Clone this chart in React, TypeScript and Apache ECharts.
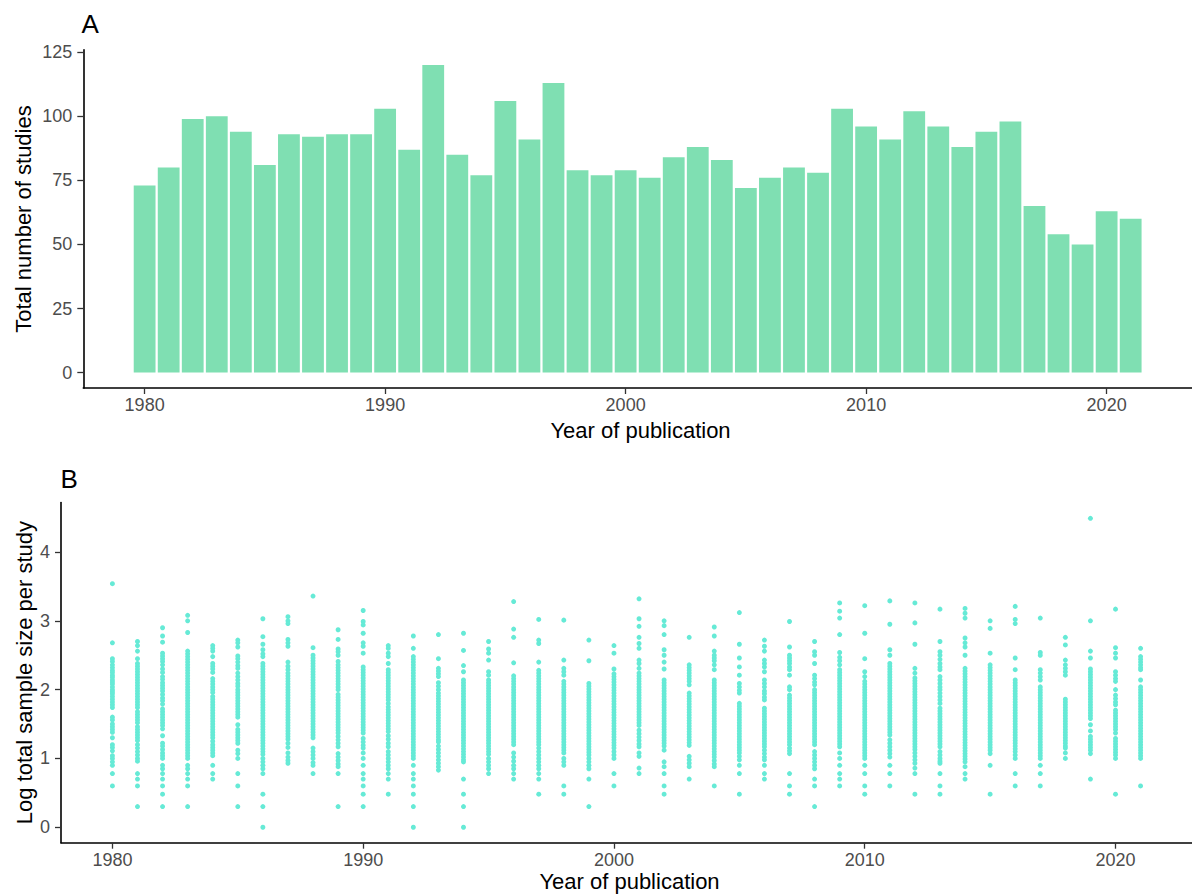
import React, { useEffect, useRef } from "react";
import * as echarts from "echarts";

// Panel A: total number of studies per year
const barYears = [1980,1981,1982,1983,1984,1985,1986,1987,1988,1989,1990,1991,1992,1993,1994,1995,1996,1997,1998,1999,2000,2001,2002,2003,2004,2005,2006,2007,2008,2009,2010,2011,2012,2013,2014,2015,2016,2017,2018,2019,2020,2021];
const studyCounts = [73,80,99,100,94,81,93,92,93,93,103,87,120,85,77,106,91,113,79,77,79,76,84,88,83,72,76,80,78,103,96,91,102,96,88,94,98,65,54,50,63,60];

const xTicks = [1980, 1990, 2000, 2010, 2020];
const yTicksA = [0, 25, 50, 75, 100, 125];
const yTicksB = [0, 1, 2, 3, 4];

// Panel B: log total sample size per study (one array per year)
const s1980 = [3.54,2.68,2.45,2.41,2.36,2.32,2.28,2.25,2.21,2.18,2.14,2.11,2.08,2.04,2.0,1.97,1.94,1.9,1.86,1.82,1.78,1.74,1.6,1.56,1.5,1.46,1.42,1.38,1.3,1.2,1.16,1.11,1.04,1.0,0.95,0.9,0.78,0.6];
const s1981 = [2.7,2.64,2.56,2.45,2.38,2.34,2.3,2.26,2.22,2.18,2.14,2.1,2.06,2.02,1.98,1.94,1.9,1.86,1.82,1.78,1.74,1.68,1.64,1.6,1.56,1.52,1.46,1.42,1.38,1.34,1.3,1.26,1.2,1.15,1.1,1.05,1.0,0.96,0.78,0.7,0.6,0.3];
const s1982 = [2.9,2.78,2.69,2.53,2.49,2.45,2.41,2.36,2.3,2.25,2.19,2.15,2.1,2.06,2.02,1.98,1.93,1.88,1.84,1.79,1.72,1.68,1.64,1.6,1.56,1.52,1.48,1.43,1.33,1.22,1.18,1.13,1.08,1.04,1.0,0.9,0.85,0.78,0.7,0.6,0.48,0.3];
const s1983 = [3.08,3.0,2.83,2.56,2.52,2.48,2.44,2.4,2.36,2.32,2.28,2.24,2.2,2.16,2.12,2.08,2.04,2.0,1.96,1.92,1.88,1.84,1.8,1.76,1.72,1.68,1.64,1.6,1.56,1.52,1.48,1.44,1.4,1.36,1.32,1.28,1.24,1.2,1.16,1.12,1.08,1.04,1.0,0.9,0.85,0.78,0.7,0.6,0.3];
const s1984 = [2.64,2.6,2.56,2.48,2.38,2.34,2.3,2.25,2.16,2.12,2.08,2.04,2.0,1.96,1.9,1.86,1.82,1.78,1.74,1.7,1.66,1.62,1.58,1.54,1.5,1.46,1.42,1.38,1.34,1.3,1.25,1.2,1.16,1.12,1.08,1.04,0.9,0.78,0.7];
const s1985 = [2.72,2.68,2.62,2.49,2.45,2.4,2.35,2.31,2.24,2.19,2.14,2.09,2.05,2.0,1.96,1.92,1.88,1.84,1.8,1.76,1.72,1.68,1.64,1.6,1.49,1.42,1.38,1.34,1.3,1.26,1.22,1.12,1.07,1.0,0.78,0.6,0.3];
const s1986 = [3.03,2.77,2.66,2.58,2.52,2.48,2.38,2.34,2.3,2.26,2.22,2.18,2.14,2.1,2.06,2.02,1.98,1.94,1.9,1.86,1.82,1.78,1.74,1.7,1.66,1.62,1.58,1.54,1.5,1.46,1.42,1.38,1.34,1.3,1.26,1.22,1.18,1.14,1.1,1.06,1.0,0.95,0.9,0.85,0.78,0.48,0.3,0.0];
const s1987 = [3.06,3.0,2.96,2.73,2.68,2.63,2.4,2.34,2.29,2.24,2.2,2.16,2.12,2.08,2.04,2.0,1.96,1.92,1.88,1.84,1.8,1.76,1.72,1.68,1.64,1.6,1.56,1.52,1.48,1.44,1.4,1.36,1.32,1.28,1.22,1.16,1.08,1.02,0.97,0.93];
const s1988 = [3.36,2.61,2.5,2.46,2.42,2.38,2.34,2.3,2.26,2.22,2.18,2.14,2.1,2.06,2.02,1.98,1.94,1.9,1.86,1.82,1.78,1.74,1.7,1.66,1.62,1.58,1.54,1.5,1.46,1.42,1.38,1.34,1.3,1.15,1.1,1.05,1.0,0.94,0.9,0.78];
const s1989 = [2.87,2.73,2.59,2.55,2.5,2.41,2.36,2.32,2.28,2.24,2.2,2.16,2.12,2.08,2.04,2.0,1.93,1.89,1.85,1.81,1.77,1.73,1.69,1.65,1.61,1.57,1.53,1.49,1.45,1.41,1.37,1.32,1.27,1.22,1.17,1.07,1.02,0.97,0.92,0.88,0.78,0.3];
const s1990 = [3.15,2.99,2.94,2.82,2.68,2.63,2.53,2.33,2.29,2.25,2.21,2.17,2.13,2.09,2.05,2.01,1.97,1.93,1.89,1.85,1.81,1.77,1.73,1.69,1.65,1.61,1.57,1.53,1.49,1.45,1.41,1.37,1.29,1.24,1.19,1.15,1.08,1.0,0.9,0.78,0.7,0.6,0.48,0.3];
const s1991 = [2.64,2.6,2.53,2.48,2.38,2.29,2.25,2.21,2.17,2.13,2.09,2.05,2.01,1.97,1.93,1.89,1.85,1.8,1.75,1.71,1.67,1.63,1.59,1.55,1.51,1.47,1.43,1.39,1.33,1.28,1.22,1.17,1.1,1.05,1.0,0.95,0.9,0.85,0.78,0.7,0.48];
const s1992 = [2.78,2.6,2.48,2.44,2.4,2.36,2.32,2.28,2.24,2.2,2.16,2.12,2.08,2.04,2.0,1.96,1.92,1.88,1.84,1.8,1.76,1.72,1.68,1.64,1.6,1.56,1.52,1.48,1.44,1.4,1.36,1.32,1.28,1.24,1.2,1.16,1.12,1.08,1.04,1.0,0.9,0.78,0.7,0.6,0.48,0.3,0.0];
const s1993 = [2.8,2.45,2.31,2.27,2.23,2.19,2.1,2.05,2.0,1.95,1.91,1.87,1.83,1.79,1.75,1.71,1.67,1.63,1.59,1.55,1.51,1.47,1.43,1.39,1.35,1.31,1.27,1.24,1.18,1.13,1.08,1.03,0.98,0.93,0.88,0.83];
const s1994 = [2.82,2.57,2.35,2.26,2.14,2.1,2.06,2.02,1.98,1.94,1.9,1.86,1.82,1.78,1.74,1.7,1.66,1.62,1.58,1.54,1.5,1.46,1.42,1.38,1.34,1.3,1.26,1.22,1.18,1.14,1.1,1.06,1.02,0.98,0.95,0.7,0.48,0.3,0.0];
const s1995 = [2.7,2.59,2.53,2.43,2.26,2.21,2.14,2.1,2.06,2.02,1.98,1.94,1.9,1.86,1.82,1.78,1.74,1.7,1.66,1.62,1.58,1.54,1.5,1.46,1.42,1.38,1.34,1.3,1.26,1.22,1.18,1.14,1.1,1.06,1.0,0.95,0.9,0.85,0.78];
const s1996 = [3.28,2.88,2.76,2.39,2.2,2.16,2.12,2.08,2.04,2.0,1.96,1.92,1.88,1.84,1.8,1.76,1.72,1.68,1.64,1.6,1.56,1.52,1.48,1.44,1.4,1.36,1.32,1.28,1.24,1.2,1.08,1.02,0.96,0.9,0.85,0.78,0.7];
const s1997 = [3.02,2.72,2.67,2.4,2.28,2.24,2.2,2.16,2.12,2.08,2.04,2.0,1.96,1.92,1.88,1.84,1.8,1.76,1.72,1.68,1.64,1.6,1.56,1.52,1.48,1.44,1.4,1.36,1.32,1.28,1.24,1.2,1.15,1.1,1.05,1.0,0.95,0.9,0.85,0.78,0.7,0.48];
const s1998 = [3.01,2.43,2.31,2.26,2.21,2.12,2.08,2.04,2.0,1.96,1.92,1.88,1.84,1.8,1.76,1.72,1.68,1.64,1.6,1.56,1.52,1.48,1.44,1.4,1.36,1.32,1.28,1.24,1.2,1.16,1.12,1.08,1.0,0.95,0.9,0.6,0.48];
const s1999 = [2.72,2.42,2.09,2.05,2.01,1.97,1.93,1.89,1.85,1.81,1.77,1.73,1.69,1.65,1.61,1.57,1.53,1.49,1.45,1.41,1.37,1.33,1.29,1.25,1.21,1.17,1.13,1.09,1.05,1.0,0.95,0.9,0.85,0.7,0.3];
const s2000 = [2.64,2.53,2.3,2.23,2.19,2.15,2.11,2.07,2.03,1.99,1.95,1.91,1.87,1.83,1.79,1.75,1.71,1.67,1.63,1.59,1.55,1.51,1.47,1.43,1.39,1.35,1.31,1.27,1.23,1.19,1.15,1.1,1.05,1.0,0.78,0.6];
const s2001 = [3.32,3.03,2.92,2.76,2.67,2.6,2.43,2.38,2.31,2.24,2.2,2.16,2.12,2.08,2.04,2.0,1.96,1.92,1.88,1.84,1.8,1.76,1.72,1.68,1.64,1.6,1.56,1.52,1.48,1.41,1.36,1.31,1.26,1.21,1.17,1.08,1.03,0.86,0.78];
const s2002 = [3.0,2.93,2.8,2.58,2.5,2.4,2.3,2.14,2.1,2.06,2.02,1.98,1.94,1.9,1.86,1.82,1.78,1.74,1.7,1.66,1.62,1.58,1.54,1.5,1.46,1.42,1.38,1.34,1.3,1.26,1.22,1.18,1.12,0.95,0.88,0.78,0.6,0.48];
const s2003 = [2.76,2.36,2.32,2.28,2.24,2.2,2.16,2.12,2.07,1.95,1.91,1.87,1.83,1.79,1.75,1.71,1.67,1.63,1.59,1.55,1.51,1.47,1.43,1.39,1.35,1.31,1.27,1.23,1.19,1.03,0.98,0.93,0.88,0.7];
const s2004 = [2.91,2.78,2.56,2.5,2.46,2.42,2.36,2.29,2.14,2.1,2.06,2.02,1.98,1.94,1.9,1.86,1.82,1.78,1.74,1.7,1.66,1.62,1.58,1.54,1.5,1.46,1.42,1.38,1.34,1.3,1.26,1.22,1.18,1.14,1.1,1.06,1.02,0.97,0.92,0.88,0.6];
const s2005 = [3.12,2.66,2.46,2.33,2.21,2.09,2.04,1.99,1.95,1.8,1.76,1.72,1.68,1.64,1.6,1.56,1.52,1.48,1.44,1.4,1.36,1.32,1.28,1.24,1.2,1.16,1.12,1.08,1.03,0.98,0.9,0.78,0.48];
const s2006 = [2.72,2.63,2.56,2.43,2.38,2.33,2.26,2.14,2.09,2.04,1.98,1.94,1.89,1.85,1.73,1.69,1.65,1.61,1.57,1.53,1.49,1.45,1.41,1.37,1.33,1.29,1.25,1.21,1.17,1.12,1.07,1.02,0.98,0.9,0.78,0.7];
const s2007 = [2.99,2.62,2.5,2.46,2.42,2.38,2.33,2.29,2.21,2.04,2.0,1.92,1.88,1.84,1.8,1.76,1.72,1.68,1.64,1.6,1.56,1.52,1.48,1.44,1.4,1.36,1.32,1.28,1.24,1.2,1.15,1.11,1.07,0.78,0.6,0.48];
const s2008 = [2.7,2.55,2.5,2.38,2.21,2.16,2.11,2.07,2.0,1.96,1.92,1.88,1.84,1.8,1.76,1.72,1.68,1.64,1.6,1.56,1.52,1.48,1.44,1.4,1.36,1.32,1.28,1.24,1.2,1.1,1.05,1.0,0.95,0.9,0.85,0.7,0.6,0.3];
const s2009 = [3.26,3.14,3.04,2.8,2.54,2.47,2.42,2.36,2.29,2.25,2.21,2.17,2.13,2.09,2.05,2.01,1.97,1.93,1.89,1.85,1.81,1.77,1.73,1.69,1.65,1.61,1.57,1.53,1.49,1.45,1.41,1.37,1.33,1.29,1.25,1.21,1.17,1.08,1.0,0.9,0.78,0.7,0.6];
const s2010 = [3.22,2.82,2.45,2.26,2.19,2.12,2.08,2.04,2.0,1.96,1.92,1.88,1.84,1.8,1.76,1.72,1.68,1.64,1.6,1.56,1.52,1.48,1.44,1.4,1.36,1.32,1.28,1.24,1.2,1.16,1.12,1.08,1.04,1.0,0.9,0.78,0.6,0.48];
const s2011 = [3.29,2.95,2.58,2.5,2.38,2.34,2.3,2.26,2.22,2.18,2.14,2.1,2.06,2.02,1.98,1.94,1.9,1.86,1.82,1.78,1.74,1.7,1.66,1.62,1.58,1.54,1.5,1.46,1.42,1.38,1.34,1.27,1.22,1.17,1.12,1.07,1.02,0.9,0.78,0.6];
const s2012 = [3.26,2.97,2.66,2.31,2.24,2.17,2.13,2.09,2.05,2.01,1.97,1.93,1.89,1.85,1.81,1.77,1.73,1.69,1.65,1.61,1.57,1.53,1.49,1.45,1.41,1.37,1.33,1.29,1.25,1.21,1.17,1.13,1.08,1.03,0.98,0.93,0.86,0.78,0.48];
const s2013 = [3.17,2.7,2.55,2.5,2.44,2.38,2.33,2.29,2.19,2.14,2.09,2.04,2.0,1.95,1.9,1.85,1.8,1.73,1.69,1.65,1.61,1.57,1.53,1.49,1.45,1.41,1.37,1.33,1.29,1.25,1.21,1.17,1.1,1.05,1.0,0.96,0.93,0.78,0.6,0.48];
const s2014 = [3.18,3.11,3.04,2.75,2.68,2.62,2.5,2.31,2.27,2.23,2.19,2.15,2.11,2.07,2.03,1.99,1.95,1.91,1.87,1.83,1.79,1.75,1.71,1.67,1.63,1.59,1.55,1.51,1.47,1.43,1.39,1.35,1.31,1.27,1.23,1.19,1.15,1.11,1.07,1.03,0.99,0.95,0.88,0.78,0.7];
const s2015 = [3.0,2.89,2.53,2.36,2.32,2.28,2.24,2.2,2.16,2.12,2.08,2.04,2.0,1.96,1.92,1.88,1.84,1.8,1.76,1.72,1.68,1.64,1.6,1.56,1.52,1.48,1.44,1.4,1.36,1.32,1.28,1.24,1.2,1.16,1.12,1.07,0.9,0.48];
const s2016 = [3.21,3.02,2.96,2.46,2.29,2.14,2.1,2.06,2.02,1.98,1.94,1.9,1.86,1.82,1.78,1.74,1.7,1.66,1.62,1.58,1.54,1.5,1.46,1.42,1.38,1.34,1.3,1.26,1.22,1.18,1.14,1.1,1.05,1.0,0.78,0.6];
const s2017 = [3.04,2.54,2.5,2.29,2.24,2.19,2.14,2.04,2.0,1.96,1.92,1.88,1.84,1.8,1.76,1.72,1.68,1.64,1.6,1.56,1.52,1.48,1.44,1.4,1.36,1.32,1.28,1.24,1.2,1.16,1.12,1.08,1.04,1.0,0.9,0.78,0.6];
const s2018 = [2.76,2.65,2.43,2.36,2.31,2.26,2.21,1.86,1.82,1.78,1.74,1.7,1.66,1.62,1.58,1.54,1.5,1.46,1.42,1.38,1.34,1.3,1.26,1.22,1.18,1.15,1.08,1.0];
const s2019 = [4.49,3.0,2.56,2.46,2.3,2.26,2.22,2.18,2.14,2.1,2.06,2.02,1.98,1.94,1.9,1.86,1.82,1.78,1.74,1.7,1.66,1.62,1.58,1.49,1.4,1.32,1.28,1.24,1.2,1.16,1.12,1.07,0.7];
const s2020 = [3.17,2.61,2.53,2.46,2.26,2.21,2.16,2.12,2.0,1.92,1.87,1.82,1.78,1.7,1.66,1.62,1.58,1.54,1.5,1.46,1.42,1.37,1.29,1.25,1.21,1.17,1.13,1.09,1.05,1.0,0.48];
const s2021 = [2.6,2.48,2.44,2.4,2.36,2.32,2.29,2.14,2.04,2.0,1.96,1.92,1.88,1.84,1.8,1.76,1.72,1.68,1.64,1.6,1.56,1.52,1.48,1.44,1.4,1.36,1.32,1.28,1.24,1.2,1.16,1.12,1.08,1.04,1.0,0.6];

const scatterYears = barYears;
const scatterByYear = [s1980,s1981,s1982,s1983,s1984,s1985,s1986,s1987,s1988,s1989,s1990,s1991,s1992,s1993,s1994,s1995,s1996,s1997,s1998,s1999,s2000,s2001,s2002,s2003,s2004,s2005,s2006,s2007,s2008,s2009,s2010,s2011,s2012,s2013,s2014,s2015,s2016,s2017,s2018,s2019,s2020,s2021];

const FONT = "'Liberation Sans', Arial, Helvetica, sans-serif";

export default function App() {
  const ref = useRef<HTMLDivElement>(null);
  useEffect(() => {
    if (!ref.current) return;
    const chart = echarts.init(ref.current, undefined, { renderer: "svg" });
    const barData = barYears.map((y, i) => [y, studyCounts[i]]);
    const scatterData: number[][] = [];
    scatterYears.forEach((y, i) => {
      scatterByYear[i].forEach((v) => scatterData.push([y, v]));
    });
    const axisLineStyle = { color: "#000000", width: 1.6 };
    const tickStyle = { color: "#333333", width: 1.3 };
    const labelStyle = {
      color: "#4D4D4D",
      fontSize: 18,
      fontFamily: FONT,
      formatter: (v: number) => String(v),
    };
    chart.setOption({
      animation: false,
      backgroundColor: "#ffffff",
      grid: [
        { left: 83.3, top: 49.7, width: 1114.7, height: 338.3, containLabel: false },
        { left: 61, top: 502.5, width: 1137, height: 340.2, containLabel: false },
      ],
      xAxis: [
        {
          gridIndex: 0, type: "value", min: 1977.45, max: 2023.55,
          splitLine: { show: false },
          axisLine: { show: true, onZero: false, lineStyle: axisLineStyle },
          axisTick: { show: true, length: 6, lineStyle: tickStyle, customValues: xTicks },
          axisLabel: { ...labelStyle, margin: 8, customValues: xTicks },
        },
        {
          gridIndex: 1, type: "value", min: 1977.95, max: 2023.05,
          splitLine: { show: false },
          axisLine: { show: true, onZero: false, lineStyle: axisLineStyle },
          axisTick: { show: true, length: 6, lineStyle: tickStyle, customValues: xTicks },
          axisLabel: { ...labelStyle, margin: 8, customValues: xTicks },
        },
      ],
      yAxis: [
        {
          gridIndex: 0, type: "value", min: -6, max: 126,
          splitLine: { show: false },
          axisLine: { show: true, onZero: false, lineStyle: axisLineStyle },
          axisTick: { show: true, length: 6, lineStyle: tickStyle, customValues: yTicksA },
          axisLabel: { ...labelStyle, margin: 11, customValues: yTicksA },
        },
        {
          gridIndex: 1, type: "value", min: -0.225, max: 4.72,
          splitLine: { show: false },
          axisLine: { show: true, onZero: false, lineStyle: axisLineStyle },
          axisTick: { show: true, length: 6, lineStyle: tickStyle, customValues: yTicksB },
          axisLabel: { ...labelStyle, margin: 11, customValues: yTicksB },
        },
      ],
      series: [
        {
          type: "bar", xAxisIndex: 0, yAxisIndex: 0, data: barData,
          barWidth: 21.8,
          itemStyle: { color: "#7FDFB2" },
          silent: true,
        },
        {
          type: "scatter", xAxisIndex: 1, yAxisIndex: 1, data: scatterData,
          symbol: "circle", symbolSize: 5,
          itemStyle: { color: "#66EAD6", opacity: 1 },
          silent: true,
        },
      ],
      graphic: [
        { type: "text", x: 81.5, y: 24, style: { text: "A", fontSize: 26, fontFamily: FONT, fill: "#000", textAlign: "left", textVerticalAlign: "middle" } },
        { type: "text", x: 60.5, y: 478.5, style: { text: "B", fontSize: 26, fontFamily: FONT, fill: "#000", textAlign: "left", textVerticalAlign: "middle" } },
        { type: "text", x: 640.5, y: 430.5, style: { text: "Year of publication", fontSize: 22, fontFamily: FONT, fill: "#000", textAlign: "center", textVerticalAlign: "middle" } },
        { type: "text", x: 629.5, y: 881.5, style: { text: "Year of publication", fontSize: 22, fontFamily: FONT, fill: "#000", textAlign: "center", textVerticalAlign: "middle" } },
        { type: "text", x: 23, y: 219, rotation: Math.PI / 2, style: { text: "Total number of studies", fontSize: 22, fontFamily: FONT, fill: "#000", textAlign: "center", textVerticalAlign: "middle" } },
        { type: "text", x: 24, y: 672.6, rotation: Math.PI / 2, style: { text: "Log total sample size per study", fontSize: 22, fontFamily: FONT, fill: "#000", textAlign: "center", textVerticalAlign: "middle" } },
      ],
    });
    return () => chart.dispose();
  }, []);
  return (
    <div
      ref={ref}
      style={{ position: "fixed", left: 0, top: 0, width: 1192, height: 895, background: "#fff" }}
    />
  );
}
